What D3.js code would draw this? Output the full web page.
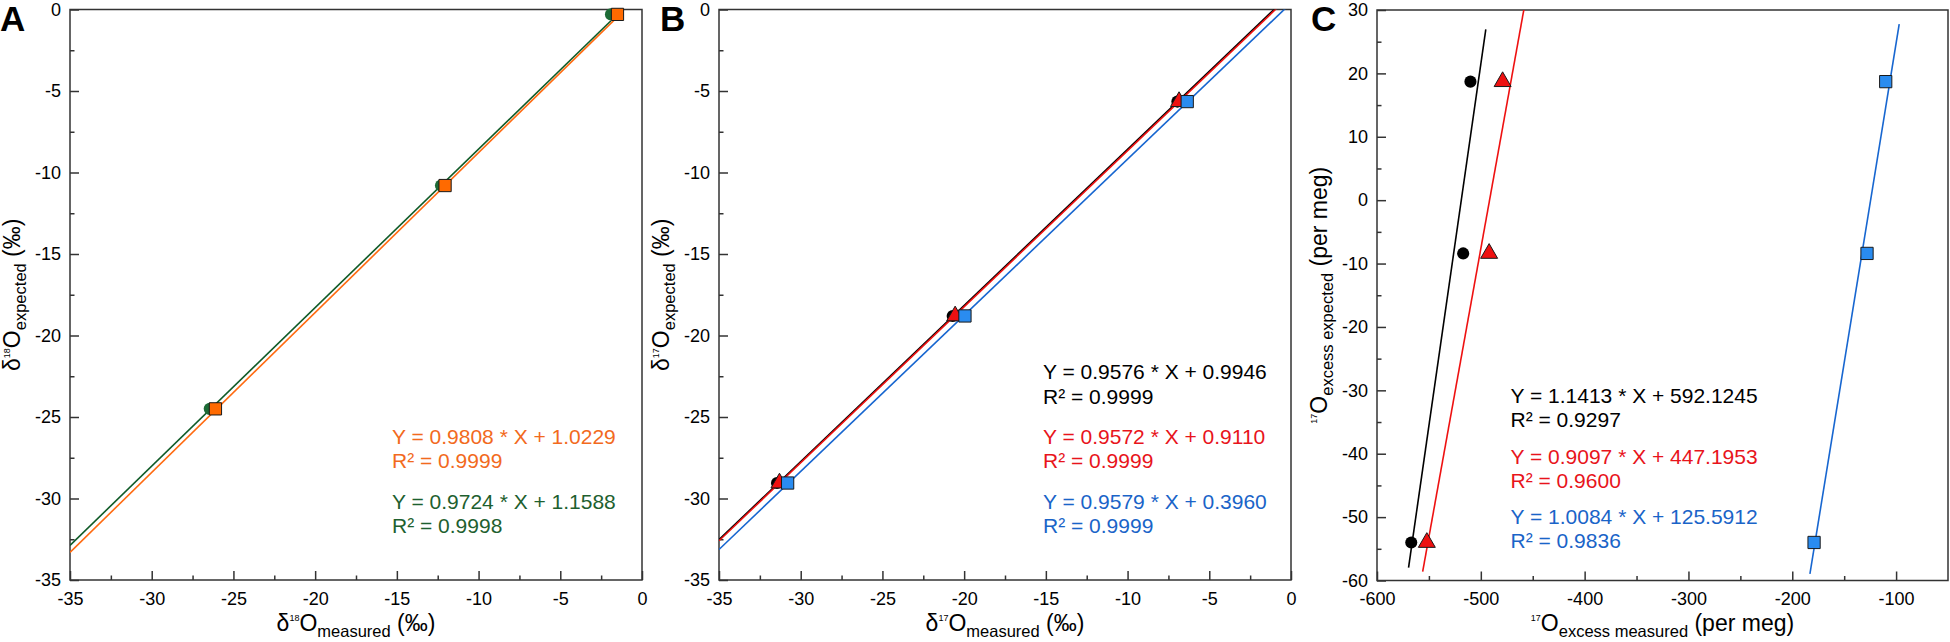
<!DOCTYPE html>
<html>
<head>
<meta charset="utf-8">
<script src="https://cdn.jsdelivr.net/npm/d3@7"></script>
<style>
  body { margin: 0; background: #fff; }
  text { font-family: "Liberation Sans", Arial, sans-serif; }
</style>
</head>
<body>
<div id="chart"></div>
<script>
// ---- data ----
// panel A : d18O
var aExpected = [-0.3, -10.8, -24.5];
var aOrangeMeasured = [-1.5, -12.05, -26.1];
var aGreenMeasured = [-1.9, -12.3, -26.45];
var aSlopes = [0.9808, 0.9724];
var aIntercepts = [1.0229, 1.1588];
var aR2 = ["0.9999", "0.9998"];
var aLineX = [[-35, -1.5], [-35, -1.9]];

// panel B : d17O
var bExpected = [-5.65, -18.8, -29.05];
var bBlackMeasured = [-6.95, -20.7, -31.45];
var bRedMeasured = [-6.85, -20.55, -31.3];
var bBlueMeasured = [-6.35, -19.95, -30.8];
var bSlopes = [0.9576, 0.9572, 0.9579];
var bIntercepts = [0.9946, 0.9110, 0.3960];
var bR2 = ["0.9999", "0.9999", "0.9999"];
var bLineX = [[-35, 0], [-35, 0], [-35, 0]];

// panel C : 17O excess
var cExpected = [18.7, -8.4, -54];
var cBlackMeasured = [-510, -517, -567];
var cRedMeasured = [-479, -492, -552];
var cBlueMeasured = [-110, -128, -179];
var cSlopes = [1.1413, 0.9097, 1.0084];
var cIntercepts = [592.1245, 447.1953, 125.5912];
var cR2 = ["0.9297", "0.9600", "0.9836"];
var cLineX = [[-569.6, -495.2], [-556, -455], [-183, -97]];

// ticks
var abTicks = [-35, -30, -25, -20, -15, -10, -5, 0];
var abMinor = [-32.5, -27.5, -22.5, -17.5, -12.5, -7.5, -2.5];
var cXTicks = [-600, -500, -400, -300, -200, -100];
var cXMinor = [-550, -450, -350, -250, -150];
var cYTicks = [-60, -50, -40, -30, -20, -10, 0, 10, 20, 30];
var cYMinor = [-55, -45, -35, -25, -15, -5, 5, 15, 25];

// ---- styles ----
var colors = {
    orange: { fill: "#ff6a00", line: "#ff6a10", text: "#f26a1d" },
    green:  { fill: "#1d6b36", line: "#0f5a27", text: "#1e5f2f" },
    black:  { fill: "#000000", line: "#000000", text: "#000000" },
    red:    { fill: "#ee1111", line: "#ee1111", text: "#e8141b" },
    blue:   { fill: "#2a8cf0", line: "#1766d0", text: "#1a64c8" }
};
var axisColor = "#333";

var svgWidth = 1950;
var svgHeight = 642;

var svg = d3.select("#chart")
    .append("svg")
    .attr("width", svgWidth)
    .attr("height", svgHeight);

function drawPanel(p) {
    var x = d3.scaleLinear().domain(p.xDomain).range([p.left, p.right]);
    var y = d3.scaleLinear().domain(p.yDomain).range([p.bottom, p.top]);
    var g = svg.append("g");

    g.append("clipPath").attr("id", "clip" + p.letter)
        .append("rect")
        .attr("x", p.left).attr("y", p.top)
        .attr("width", p.right - p.left).attr("height", p.bottom - p.top);

    // minor ticks
    g.append("g")
        .attr("transform", `translate(0, ${p.bottom})`)
        .call(d3.axisBottom(x).tickValues(p.xMinor).tickSize(-4.5).tickFormat(""))
        .call(a => a.select(".domain").remove());
    g.append("g")
        .attr("transform", `translate(${p.left}, 0)`)
        .call(d3.axisLeft(y).tickValues(p.yMinor).tickSize(-4.5).tickFormat(""))
        .call(a => a.select(".domain").remove());

    // major ticks
    g.append("g")
        .attr("transform", `translate(0, ${p.bottom})`)
        .call(d3.axisBottom(x).tickValues(p.xTicks).tickSize(-9).tickPadding(12).tickFormat(d3.format("d")))
        .call(a => a.select(".domain").remove());
    g.append("g")
        .attr("transform", `translate(${p.left}, 0)`)
        .call(d3.axisLeft(y).tickValues(p.yTicks).tickSize(-9).tickPadding(9).tickFormat(d3.format("d")))
        .call(a => a.select(".domain").remove());

    g.selectAll(".tick line").attr("stroke", axisColor).attr("stroke-width", 1.5);
    g.selectAll(".tick text")
        .attr("fill", "#000")
        .style("font-family", "'Liberation Sans', Arial, sans-serif")
        .style("font-size", "18px");
    // minus signs as plain hyphens like the original
    g.selectAll(".tick text").text(function () { return this.textContent.replace("\u2212", "-"); });

    g.append("rect")
        .attr("x", p.left).attr("y", p.top)
        .attr("width", p.right - p.left).attr("height", p.bottom - p.top)
        .attr("fill", "none")
        .attr("stroke", axisColor)
        .attr("stroke-width", 1.5);

    // panel letter
    svg.append("text")
        .attr("x", p.letterX).attr("y", 31)
        .style("font-size", "35px").style("font-weight", "bold")
        .text(p.letter);

    // x title
    var xt = svg.append("text")
        .attr("x", (p.left + p.right) / 2).attr("y", 631)
        .attr("text-anchor", "middle")
        .style("font-size", "23px");
    addTitle(xt, p.xTitle);

    // y title
    var yt = svg.append("text")
        .attr("transform", `translate(${p.left - 50}, ${(p.top + p.bottom) / 2}) rotate(-90)`)
        .attr("text-anchor", "middle")
        .style("font-size", "23px");
    addTitle(yt, p.yTitle);

    return { x: x, y: y, g: g, clip: "url(#clip" + p.letter + ")" };
}

// title parts: [text, kind] with kind main / sup / sub
function addTitle(t, parts) {
    var shift = 0;
    parts.forEach(function (part) {
        var target = part[1] === "sup" ? -10 : part[1] === "sub" ? 6 : 0;
        t.append("tspan")
            .attr("dy", target - shift)
            .style("font-size", part[1] === "sup" ? "9px" : part[1] === "sub" ? "16.5px" : "23px")
            .text(part[0]);
        shift = target;
    });
}

function drawFit(panel, slope, intercept, xr, color) {
    var pts = xr.map(d => [d, slope * d + intercept]);
    panel.g.append("path")
        .datum(pts)
        .attr("clip-path", panel.clip)
        .attr("fill", "none")
        .attr("stroke", color)
        .attr("stroke-width", 1.6)
        .attr("d", d3.line().x(d => panel.x(d[0])).y(d => panel.y(d[1])));
}

function drawPoints(panel, xs, ys, shape, color) {
    var data = xs.map((d, i) => [d, ys[i]]);
    var sym = shape === "square" ? d3.symbolSquare : shape === "triangle" ? d3.symbolTriangle : d3.symbolCircle;
    var size = shape === "square" ? 150 : shape === "triangle" ? 125 : 115;
    panel.g.selectAll(".pt-" + shape + color.replace("#", ""))
        .data(data)
        .enter()
        .append("path")
        .attr("transform", d => `translate(${panel.x(d[0])}, ${panel.y(d[1])})`)
        .attr("d", d3.symbol().type(sym).size(size))
        .attr("fill", color)
        .attr("stroke", "#1a1a1a")
        .attr("stroke-width", shape === "circle" ? 0 : 1);
}

function drawLegend(xPos, baselines, slopes, intercepts, r2s, textColors) {
    slopes.forEach(function (s, i) {
        svg.append("text")
            .attr("x", xPos).attr("y", baselines[i * 2])
            .attr("fill", textColors[i])
            .style("font-size", "21px")
            .text(`Y = ${s.toFixed(4)} * X + ${intercepts[i].toFixed(4)}`);
        svg.append("text")
            .attr("x", xPos).attr("y", baselines[i * 2 + 1])
            .attr("fill", textColors[i])
            .style("font-size", "21px")
            .text(`R\u00b2 = ${r2s[i]}`);
    });
}

// ---- panel A ----
var A = drawPanel({
    letter: "A", letterX: 0,
    left: 70, right: 642, top: 9.5, bottom: 580,
    xDomain: [-35, 0], yDomain: [-35, 0],
    xTicks: abTicks, xMinor: abMinor, yTicks: abTicks, yMinor: abMinor,
    xTitle: [["\u03b4", "main"], ["18", "sup"], ["O", "main"], ["measured", "sub"], [" (\u2030)", "main"]],
    yTitle: [["\u03b4", "main"], ["18", "sup"], ["O", "main"], ["expected", "sub"], [" (\u2030)", "main"]]
});
drawFit(A, aSlopes[0], aIntercepts[0], aLineX[0], colors.orange.line);
drawFit(A, aSlopes[1], aIntercepts[1], aLineX[1], colors.green.line);
drawPoints(A, aGreenMeasured, aExpected, "circle", colors.green.fill);
drawPoints(A, aOrangeMeasured, aExpected, "square", colors.orange.fill);
drawLegend(392, [443.5, 468, 508.5, 533], aSlopes, aIntercepts, aR2,
    [colors.orange.text, colors.green.text]);

// ---- panel B ----
var B = drawPanel({
    letter: "B", letterX: 660,
    left: 719, right: 1291, top: 9.5, bottom: 580,
    xDomain: [-35, 0], yDomain: [-35, 0],
    xTicks: abTicks, xMinor: abMinor, yTicks: abTicks, yMinor: abMinor,
    xTitle: [["\u03b4", "main"], ["17", "sup"], ["O", "main"], ["measured", "sub"], [" (\u2030)", "main"]],
    yTitle: [["\u03b4", "main"], ["17", "sup"], ["O", "main"], ["expected", "sub"], [" (\u2030)", "main"]]
});
drawFit(B, bSlopes[2], bIntercepts[2], bLineX[2], colors.blue.line);
drawFit(B, bSlopes[0], bIntercepts[0], bLineX[0], colors.black.line);
drawFit(B, bSlopes[1], bIntercepts[1], bLineX[1], colors.red.line);
drawPoints(B, bBlackMeasured, bExpected, "circle", colors.black.fill);
drawPoints(B, bRedMeasured, bExpected, "triangle", colors.red.fill);
drawPoints(B, bBlueMeasured, bExpected, "square", colors.blue.fill);
drawLegend(1043, [379, 403.5, 443.5, 468, 508.5, 533], bSlopes, bIntercepts, bR2,
    [colors.black.text, colors.red.text, colors.blue.text]);

// ---- panel C ----
var C = drawPanel({
    letter: "C", letterX: 1311,
    left: 1377, right: 1948, top: 10, bottom: 580.5,
    xDomain: [-600, -50], yDomain: [-60, 30],
    xTicks: cXTicks, xMinor: cXMinor, yTicks: cYTicks, yMinor: cYMinor,
    xTitle: [["17", "sup"], ["O", "main"], ["excess measured", "sub"], [" (per meg)", "main"]],
    yTitle: [["17", "sup"], ["O", "main"], ["excess expected", "sub"], [" (per meg)", "main"]]
});
drawFit(C, cSlopes[0], cIntercepts[0], cLineX[0], colors.black.line);
drawFit(C, cSlopes[1], cIntercepts[1], cLineX[1], colors.red.line);
drawFit(C, cSlopes[2], cIntercepts[2], cLineX[2], colors.blue.line);
drawPoints(C, cBlackMeasured, cExpected, "circle", colors.black.fill);
drawPoints(C, cRedMeasured, cExpected, "triangle", colors.red.fill);
drawPoints(C, cBlueMeasured, cExpected, "square", colors.blue.fill);
drawLegend(1510.5, [403, 427, 463.5, 487.5, 524, 548], cSlopes, cIntercepts, cR2,
    [colors.black.text, colors.red.text, colors.blue.text]);
</script>
</body>
</html>
